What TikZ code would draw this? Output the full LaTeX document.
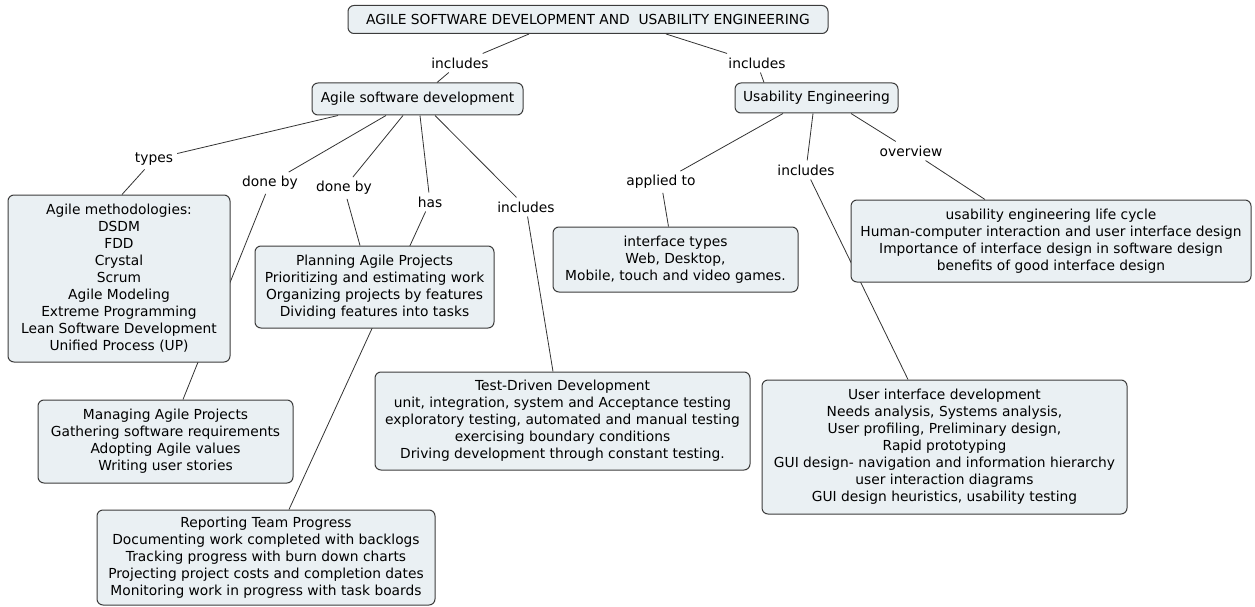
\documentclass[tikz,border=0pt]{standalone}
\usepackage{fontspec}
\setmainfont{DejaVu Sans}
\usetikzlibrary{positioning, backgrounds}
\definecolor{conceptfill}{HTML}{EAF0F3}
\definecolor{conceptline}{HTML}{3C3C3C}

\begin{document}
\begin{tikzpicture}[
        x=1pt, y=-1pt,
        font=\fontsize{13.8}{17}\selectfont,
        concept/.style={rectangle, rounded corners=6pt, draw=conceptline,
            line width=1pt, fill=conceptfill, align=center, inner sep=2pt},
        phrase/.style={inner sep=4pt},
        link/.style={draw=black!80, line width=0.8pt}
    ]

        \useasboundingbox (0,0) rectangle (1255,607);

        % Main concepts
        \node[concept, minimum width=480pt, minimum height=28pt] (root) at (588,19.5)
            {AGILE SOFTWARE DEVELOPMENT AND\ \ USABILITY ENGINEERING};
        \node[concept, minimum width=211pt, minimum height=32pt] (asd) at (417.5,99)
            {Agile software development};
        \node[concept, minimum width=163pt, minimum height=30pt] (ue) at (816.5,98)
            {Usability Engineering};

        % Linking phrases
        \node[phrase] (incl) at (460,63) {includes};
        \node[phrase] (incr) at (757,63) {includes};
        \node[phrase] (types) at (154,159) {types};
        \node[phrase] (donea) at (270,183) {done by};
        \node[phrase] (doneb) at (344,188) {done by};
        \node[phrase] (has) at (430,202) {has};
        \node[phrase] (incm) at (526,207) {includes};
        \node[phrase] (applied) at (661,182) {applied to};
        \node[phrase] (incu) at (806,170) {includes};
        \node[phrase] (overview) at (911,151) {overview};

        % Agile side
        \node[concept, minimum width=222pt, minimum height=167pt] (methods) at (119,278.5)
            {Agile methodologies:\\DSDM\\FDD\\Crystal\\Scrum\\Agile Modeling\\
             Extreme Programming\\Lean Software Development\\Unified Process (UP)};
        \node[concept, minimum width=239pt, minimum height=82pt] (planning) at (374.5,287)
            {Planning Agile Projects\\Prioritizing and estimating work\\
             Organizing projects by features\\Dividing features into tasks};
        \node[concept, minimum width=255pt, minimum height=83pt] (managing) at (165.5,441.5)
            {Managing Agile Projects\\Gathering software requirements\\
             Adopting Agile values\\Writing user stories};
        \node[concept, minimum width=338pt, minimum height=95pt] (reporting) at (266,557.5)
            {Reporting Team Progress\\Documenting work completed with backlogs\\
             Tracking progress with burn down charts\\
             Projecting project costs and completion dates\\
             Monitoring work in progress with task boards};
        \node[concept, minimum width=375pt, minimum height=98pt] (tdd) at (562.5,421)
            {Test-Driven Development\\unit, integration, system and Acceptance testing\\
             exploratory testing, automated and manual testing\\
             exercising boundary conditions\\
             Driving development through constant testing.};

        % Usability side
        \node[concept, minimum width=245pt, minimum height=65pt] (iface) at (675.5,259.5)
            {interface types\\Web, Desktop,\\Mobile, touch and video games.};
        \node[concept, minimum width=400pt, minimum height=82pt] (cycle) at (1051,241)
            {usability engineering life cycle\\
             Human-computer interaction and user interface design\\
             Importance of interface design in software design\\
             benefits of good interface design};
        \node[concept, minimum width=365pt, minimum height=134pt] (uidev) at (944.5,447)
            {User interface development\\Needs analysis, Systems analysis,\\
             User profiling, Preliminary design,\\Rapid prototyping\\
             GUI design- navigation and information hierarchy\\
             user interaction diagrams\\GUI design heuristics, usability testing};

        % Connectors (behind the boxes)
        \begin{scope}[on background layer]
            \draw[link] ([xshift=-59pt]root.south) -- (incl);
            \draw[link] (incl) -- ([xshift=19.5pt]asd.north);
            \draw[link] ([xshift=78pt]root.south) -- (incr);
            \draw[link] (incr) -- ([xshift=-52.5pt]ue.north);

            \draw[link] ([xshift=-79.5pt]asd.south) -- (types);
            \draw[link] (types) -- ([xshift=3pt]methods.north);
            \draw[link] ([xshift=-31.5pt]asd.south) -- (donea);
            \draw[link] (donea) -- ([xshift=17.5pt]managing.north);
            \draw[link] ([xshift=-14.5pt]asd.south) -- (doneb);
            \draw[link] (doneb) -- ([xshift=-14.5pt]planning.north);
            \draw[link] ([xshift=2.5pt]asd.south) -- (has);
            \draw[link] (has) -- ([xshift=23pt]reporting.north);
            \draw[link] ([xshift=17.5pt]asd.south) -- (incm);
            \draw[link] (incm) -- ([xshift=-9.5pt]tdd.north);

            \draw[link] ([xshift=-33.5pt]ue.south) -- (applied);
            \draw[link] (applied) -- ([xshift=-7pt]iface.north);
            \draw[link] ([xshift=-3.5pt]ue.south) -- (incu);
            \draw[link] (incu) -- ([xshift=-36.5pt]uidev.north);
            \draw[link] ([xshift=34.5pt]ue.south) -- (overview);
            \draw[link] (overview) -- ([xshift=-66pt]cycle.north);
        \end{scope}

\end{tikzpicture}
\end{document}
